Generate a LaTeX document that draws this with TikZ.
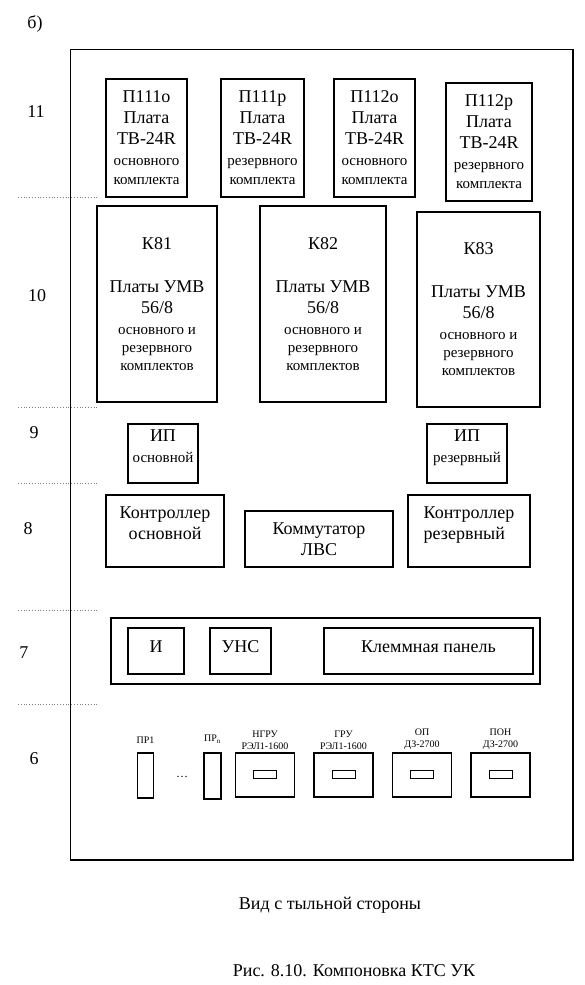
\documentclass[tikz,border=0pt]{standalone}
\usepackage{fontspec}
\setmainfont{Liberation Serif}
\usepackage{tikz}
\usetikzlibrary{positioning}

\newcommand{\smtxt}[1]{{\fontsize{15}{18}\selectfont #1}}
\newcommand{\plata}[2]{#1\\Плата\\ТВ-24R\\\smtxt{#2}\\[-2pt]\smtxt{комплекта}}
\newcommand{\umvtext}[1]{#1\\[22pt]Платы УМВ\\56/8\\\smtxt{основного и}\\[-3pt]\smtxt{резервного}\\[-3pt]\smtxt{комплектов}}

\begin{document}
\begin{tikzpicture}[
          x=1pt, y=-1pt,
          box/.style={draw, line width=1.1pt, inner sep=0pt, align=center, font=\fontsize{18}{21}\selectfont},
          tag/.style={font=\fontsize{18}{21}\selectfont},
          devname/.style={align=center, inner sep=0pt, font=\fontsize{10}{12}\selectfont},
          guide/.style={dotted, line width=0.8pt, gray},
          relay/.style={draw, line width=1.1pt, minimum width=59pt, minimum height=44pt},
          slot/.style={draw, line width=1pt, minimum width=23pt, minimum height=8pt}
        ]
          \useasboundingbox (0,0) rectangle (585,985);
          \node[tag] (view) at (35,24) {б)};
          \draw[line width=1.2pt] (70.5,49.5) rectangle (573,860);

          \foreach \y in {197,407,483,610,704}
            \draw[guide] (18,\y) -- (97,\y);
          \foreach \n/\x/\y in {11/36/112, 10/37/296, 9/34/433, 8/28/529, 7/24/653, 6/34/759}
            \node[tag] (row\n) at (\x,\y) {\n};

          % row 11
          \node[box, minimum width=81pt, minimum height=118pt] (p111o) at (146.5,138) {\plata{П111о}{основного}};
          \node[box, minimum width=83pt, minimum height=118pt] (p111r) at (262.5,138) {\plata{П111р}{резервного}};
          \node[box, minimum width=81pt, minimum height=118pt] (p112o) at (374.5,138) {\plata{П112о}{основного}};
          \node[box, minimum width=86pt, minimum height=118pt] (p112r) at (489,142) {\plata{П112р}{резервного}};

          % row 10
          \node[box, minimum width=120pt, minimum height=196pt] (k81) at (157,304) {\umvtext{К81}};
          \node[box, minimum width=126pt, minimum height=196pt] (k82) at (323,304) {\umvtext{К82}};
          \node[box, minimum width=123pt, minimum height=195pt] (k83) at (478.5,309.5) {\umvtext{К83}};

          % row 9
          \node[box, minimum width=70pt, minimum height=59pt, text depth=14pt] (ipo) at (163,453.5) {ИП\\\smtxt{основной}};
          \node[box, minimum width=80pt, minimum height=59pt, text depth=14pt] (ipr) at (467,453.5) {ИП\\\smtxt{резервный}};

          % row 8
          \node[box, minimum width=118pt, minimum height=72pt, text depth=16pt] (ctlo) at (165,531) {Контроллер\\основной};
          \node[box, minimum width=148pt, minimum height=56pt] (lan) at (319,539) {Коммутатор\\ЛВС};
          \node[box, minimum width=122pt, minimum height=72pt, text depth=16pt, align=left] (ctlr) at (469,531) {Контроллер\\резервный};

          % row 7
          \node[box, minimum width=429pt, minimum height=66pt] (panel) at (325.5,651) {};
          \node[box, minimum width=56pt, minimum height=46pt, text depth=9pt] (ind) at (156,651) {И};
          \node[box, minimum width=61pt, minimum height=46pt, text depth=9pt] (uns) at (240.5,651) {УНС};
          \node[box, minimum width=209pt, minimum height=46pt, text depth=9pt] (term) at (428.5,651) {Клеммная панель};

          % row 6
          \node[draw, line width=1.1pt, minimum width=16pt, minimum height=45pt] (pr1) at (145.5,775.5) {};
          \node[draw, line width=1.1pt, minimum width=17pt, minimum height=46pt] (prn) at (212.5,776) {};
          \node[devname, above=9pt of pr1] (pr1-name) {ПР1};
          \node[devname, above=9pt of prn] (prn-name) {ПР\textsubscript{n}};
          \node[font=\fontsize{12}{14}\selectfont] (dots) at (182,777) {\dots};
          \foreach \nm/\x/\a/\b in {ngru/265/НГРУ/РЭЛ1-1600, gru/343.5/ГРУ/РЭЛ1-1600, op/422/ОП/ДЗ-2700, pon/500.5/ПОН/ДЗ-2700} {
            \node[relay] (\nm) at (\x,775) {};
            \node[slot] (\nm-slot) at (\x,774) {};
            \node[devname, above=3pt of \nm] (\nm-name) {\a\\\b};
          }

          \node[tag] (side) at (330,905) {Вид с тыльной стороны};
          \node[tag] (title) at (354,971) {Рис. 8.10. Компоновка КТС УК};
        \end{tikzpicture}
\end{document}
